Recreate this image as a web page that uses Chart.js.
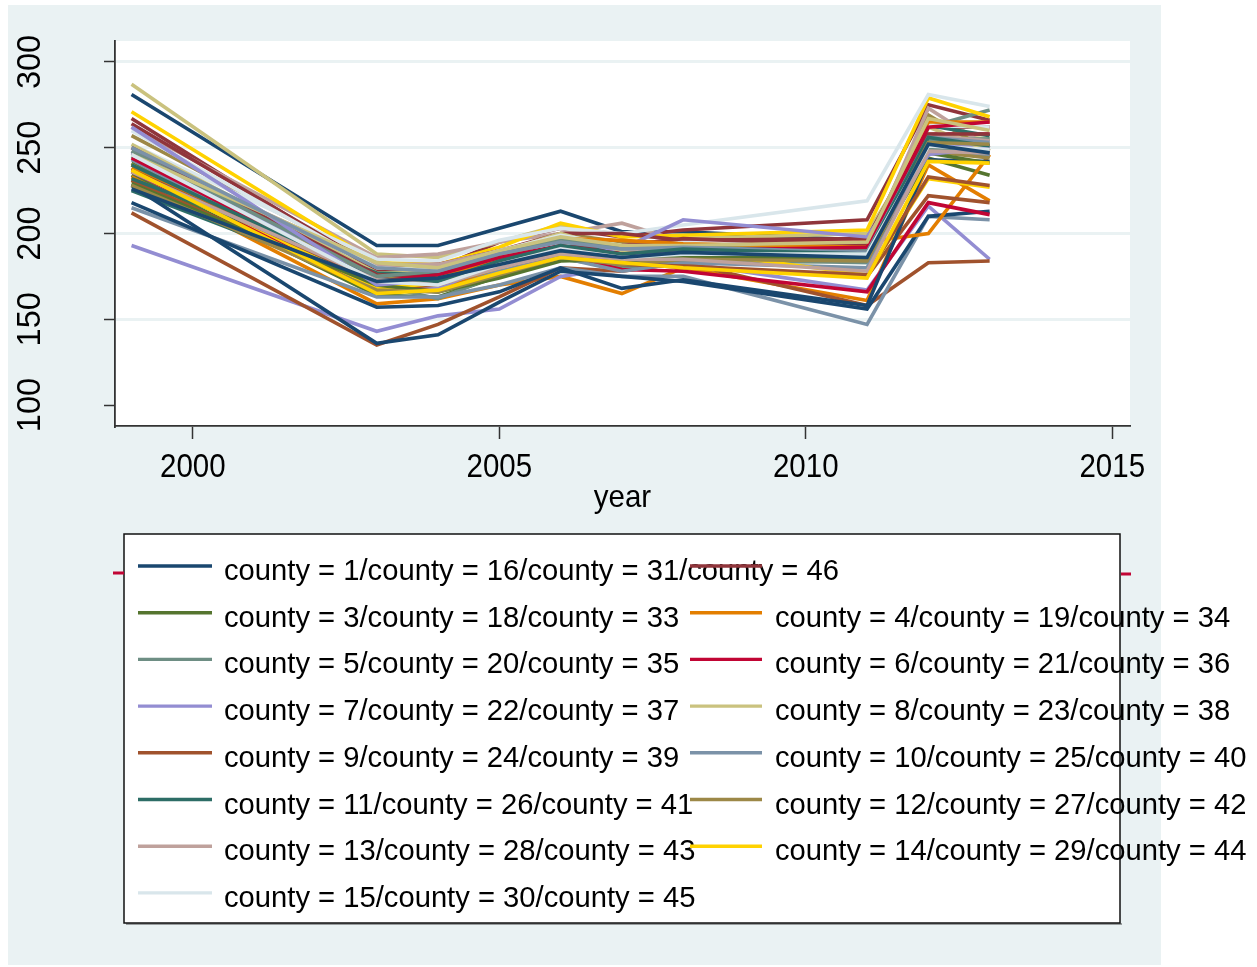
<!DOCTYPE html>
<html>
<head>
<meta charset="utf-8">
<script src="https://cdn.jsdelivr.net/npm/chart.js@4/dist/chart.umd.min.js"></script>
<style>
  html, body { margin: 0; padding: 0; background: #ffffff; }
  canvas { display: block; }
</style>
</head>
<body>
<canvas id="c" width="1257" height="967"></canvas>
<script>
// Survey years on the x axis
const years = [1999, 2003, 2004, 2005, 2006, 2007, 2008, 2011, 2012, 2013];

// One series per county (values for each year above)
const c1  = [281, 193, 193, 203, 213, 201, 201, 196, 255, 251];
const c2  = [267, 178, 180, 195, 203, 198, 202, 208, 275, 266];
const c3  = [234, 164, 163, 175, 185, 181, 183, 184, 244, 234];
const c4  = [233, 159, 162, 170, 175, 165, 180, 161, 240, 219];
const c5  = [245, 170, 162, 176, 188, 185, 187, 185, 262, 272];
const c6  = [240, 175, 174, 184, 192, 190, 195, 196, 258, 258];
const c7  = [193, 143, 152, 156, 175, 180, 183, 167, 216, 185];
const c8  = [287, 188, 186, 195, 205, 199, 197, 200, 258, 255];
const c9  = [212, 135, 147, 163, 180, 178, 183, 158, 183, 184];
const c10 = [215, 163, 163, 170, 180, 175, 175, 147, 210, 208];
const c11 = [225, 170, 167, 177, 190, 183, 187, 186, 252, 245];
const c12 = [257, 182, 180, 188, 200, 195, 195, 194, 269, 248];
const c13 = [262, 186, 188, 195, 200, 206, 195, 191, 273, 250];
const c14 = [271, 183, 182, 192, 206, 198, 199, 202, 279, 268];
const c15 = [252, 185, 184, 196, 203, 200, 205, 219, 281, 274];
const c16 = [228, 136, 141, 160, 178, 175, 172, 156, 210, 213];
const c17 = [264, 180, 182, 190, 200, 200, 196, 197, 262, 262];
const c18 = [241, 168, 167, 180, 192, 185, 190, 190, 252, 248];
const c19 = [231, 166, 169, 178, 185, 188, 186, 195, 200, 246];
const c20 = [236, 167, 170, 180, 191, 180, 185, 183, 255, 255];
const c21 = [236, 168, 170, 181, 187, 179, 178, 166, 218, 211];
const c22 = [247, 174, 168, 183, 190, 191, 208, 198, 250, 252];
const c23 = [252, 177, 178, 189, 200, 190, 192, 192, 262, 248];
const c24 = [231, 168, 170, 181, 187, 183, 180, 175, 222, 218];
const c25 = [243, 168, 166, 178, 186, 178, 183, 180, 250, 245];
const c26 = [232, 177, 176, 187, 196, 187, 192, 190, 263, 257];
const c27 = [238, 176, 172, 183, 191, 186, 188, 186, 248, 244];
const c28 = [248, 182, 182, 190, 196, 191, 189, 187, 257, 254];
const c29 = [240, 168, 171, 180, 190, 186, 190, 176, 232, 227];
const c30 = [260, 180, 179, 190, 199, 193, 195, 193, 263, 262];
const c31 = [218, 157, 158, 166, 180, 168, 173, 158, 243, 242];
const c32 = [250, 176, 175, 185, 192, 193, 197, 193, 258, 258];
const c33 = [229, 170, 166, 174, 184, 185, 186, 186, 247, 241];
const c34 = [238, 172, 174, 186, 197, 196, 194, 192, 265, 265];
const c35 = [248, 175, 178, 189, 197, 192, 190, 190, 250, 247];
const c36 = [244, 172, 176, 186, 193, 188, 190, 192, 262, 265];
const c37 = [262, 170, 173, 182, 188, 186, 189, 187, 246, 250];
const c38 = [246, 183, 180, 190, 198, 193, 193, 195, 267, 260];
const c39 = [237, 172, 172, 183, 188, 182, 181, 176, 233, 228];
const c40 = [250, 180, 178, 188, 195, 191, 192, 189, 256, 253];
const c41 = [240, 173, 172, 184, 193, 188, 191, 188, 256, 251];
const c42 = [228, 167, 166, 176, 186, 182, 185, 184, 253, 252];
const c43 = [236, 173, 170, 180, 188, 185, 185, 178, 248, 247];
const c44 = [237, 165, 167, 177, 186, 183, 180, 174, 242, 241];
const c45 = [246, 172, 170, 182, 191, 186, 188, 188, 251, 249];
const c46 = [226, 172, 174, 182, 190, 186, 189, 186, 252, 247];

const countySeries = [c1, c2, c3, c4, c5, c6, c7, c8, c9, c10, c11, c12, c13, c14, c15,
  c16, c17, c18, c19, c20, c21, c22, c23, c24, c25, c26, c27, c28, c29, c30,
  c31, c32, c33, c34, c35, c36, c37, c38, c39, c40, c41, c42, c43, c44, c45, c46];

// Axis ticks
const yTicks = [100, 150, 200, 250, 300];
const xTicks = [2000, 2005, 2010, 2015];

// Line colours, cycling every 15 counties
const palette = ['#1a476f', '#90353b', '#55752f', '#e37e00', '#6e8e84',
  '#c10534', '#938dd2', '#cac27e', '#a0522d', '#7b92a8',
  '#2d6d66', '#9c8847', '#bfa19c', '#ffd200', '#d9e6eb'];

// Legend entries, one per colour
const legendLabels = [
  'county = 1/county = 16/county = 31/county = 46',
  'county = 2/county = 17/county = 32',
  'county = 3/county = 18/county = 33',
  'county = 4/county = 19/county = 34',
  'county = 5/county = 20/county = 35',
  'county = 6/county = 21/county = 36',
  'county = 7/county = 22/county = 37',
  'county = 8/county = 23/county = 38',
  'county = 9/county = 24/county = 39',
  'county = 10/county = 25/county = 40',
  'county = 11/county = 26/county = 41',
  'county = 12/county = 27/county = 42',
  'county = 13/county = 28/county = 43',
  'county = 14/county = 29/county = 44',
  'county = 15/county = 30/county = 45'
];
const xTitle = 'year';

const BG = '#eaf2f3';
const AXIS = '#333333';
const FONT = '"Liberation Sans", Arial, sans-serif';

const datasets = countySeries.map((vals, i) => ({
  label: 'county = ' + (i + 1),
  data: vals.map((v, k) => ({ x: years[k], y: v })),
  borderColor: palette[i % palette.length],
  backgroundColor: palette[i % palette.length],
  borderWidth: 3.6,
  pointRadius: 0,
  tension: 0,
  fill: false,
  order: -(i + 1)
}));

// text drawn slightly taller than wide
function tallText(ctx, str, x, y, sy) {
  ctx.save();
  ctx.translate(x, y);
  ctx.scale(1, sy);
  ctx.fillText(str, 0, 0);
  ctx.restore();
}

const decor = {
  id: 'decor',
  beforeDraw(chart) {
    const ctx = chart.ctx;
    const a = chart.chartArea;
    ctx.save();
    ctx.fillStyle = '#ffffff';
    ctx.fillRect(0, 0, chart.width, chart.height);
    ctx.fillStyle = BG;
    ctx.fillRect(8, 5, 1153, 960);
    ctx.fillStyle = '#ffffff';
    ctx.fillRect(a.left, a.top, a.right - a.left, a.bottom - a.top);
    ctx.restore();
  },
  afterDraw(chart) {
    const ctx = chart.ctx;
    const xs = chart.scales.x, ys = chart.scales.y;
    ctx.save();
    ctx.fillStyle = '#000000';

    // y tick labels, turned to read upwards
    ctx.font = '31px ' + FONT;
    ctx.textAlign = 'center';
    ctx.textBaseline = 'middle';
    yTicks.forEach(v => {
      const py = ys.getPixelForValue(v);
      ctx.save();
      ctx.translate(31, py);
      ctx.rotate(-Math.PI / 2);
      ctx.scale(1.05, 1.08);
      ctx.fillText(String(v), 0, 0);
      ctx.restore();
    });

    // x tick labels and title
    ctx.font = '29.5px ' + FONT;
    ctx.textBaseline = 'alphabetic';
    xTicks.forEach(v => {
      tallText(ctx, String(v), xs.getPixelForValue(v), 477, 1.1);
    });
    tallText(ctx, xTitle, (chart.chartArea.left + chart.chartArea.right) / 2, 507, 1.08);

    // legend box
    const bx = 124, by = 534, bw = 996, bh = 389;
    ctx.fillStyle = 'rgba(0,0,0,0.35)';
    ctx.fillRect(bx + 2, by + bh, bw, 2);
    ctx.fillStyle = '#ffffff';
    ctx.fillRect(bx, by, bw, bh);
    ctx.strokeStyle = '#111111';
    ctx.lineWidth = 1.5;
    ctx.strokeRect(bx, by, bw, bh);

    // short red marks beside the first row
    ctx.strokeStyle = palette[5];
    ctx.lineWidth = 3;
    ctx.beginPath();
    ctx.moveTo(113, 573); ctx.lineTo(124, 573);
    ctx.moveTo(1121, 574); ctx.lineTo(1131, 574);
    ctx.stroke();

    // legend entries, two columns
    ctx.font = '29.2px ' + FONT;
    ctx.textAlign = 'left';
    ctx.textBaseline = 'alphabetic';
    const keyX = [[138, 212], [690, 762]];
    const textX = [224, 775];
    legendLabels.forEach((lab, k) => {
      const row = Math.floor(k / 2), col = k % 2;
      const base = 580 + row * 46.7;
      ctx.strokeStyle = palette[k];
      ctx.lineWidth = 3.4;
      ctx.beginPath();
      ctx.moveTo(keyX[col][0], base - 14);
      ctx.lineTo(keyX[col][1], base - 14);
      ctx.stroke();
      if (k !== 1) {
        ctx.fillStyle = '#000000';
        tallText(ctx, lab, textX[col], base, 1.04);
      }
    });
    ctx.restore();
  }
};

new Chart(document.getElementById('c'), {
  type: 'line',
  data: { datasets },
  options: {
    responsive: false,
    devicePixelRatio: 1,
    animation: false,
    layout: { padding: { left: 0, top: 41, right: 127, bottom: 0 } },
    plugins: { legend: { display: false }, tooltip: { enabled: false } },
    scales: {
      x: {
        type: 'linear',
        min: 1998.73,
        max: 2015.29,
        afterBuildTicks: s => { s.ticks = xTicks.map(v => ({ value: v })); },
        afterFit: s => { s.height = 541; },
        ticks: { display: false },
        grid: {
          drawOnChartArea: false,
          drawTicks: true,
          tickLength: 13,
          tickColor: AXIS,
          tickWidth: 1.5
        },
        border: { display: true, color: AXIS, width: 1.8 }
      },
      y: {
        type: 'linear',
        min: 87.8,
        max: 312.2,
        afterBuildTicks: s => { s.ticks = yTicks.map(v => ({ value: v })); },
        afterFit: s => { s.width = 115; },
        ticks: { display: false },
        grid: {
          drawOnChartArea: true,
          color: c => (c.tick && c.tick.value === 100) ? 'rgba(0,0,0,0)' : BG,
          lineWidth: 3,
          drawTicks: true,
          tickLength: 11,
          tickColor: AXIS,
          tickWidth: 1.5
        },
        border: { display: true, color: AXIS, width: 1.8 }
      }
    }
  },
  plugins: [decor]
});
</script>
</body>
</html>
